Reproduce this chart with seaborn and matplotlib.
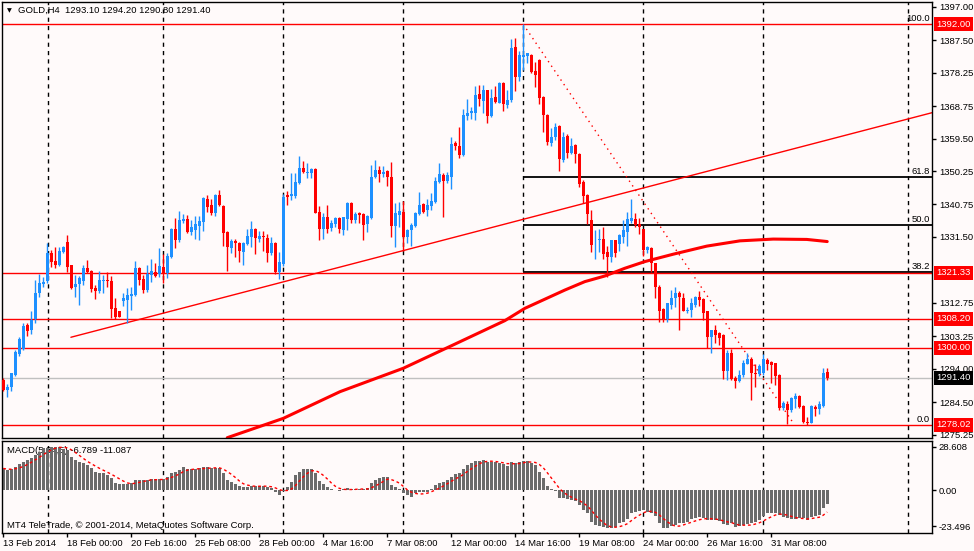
import matplotlib
matplotlib.use("Agg")
import matplotlib.pyplot as plt
import matplotlib.transforms as mtransforms
import numpy as np
import pandas as pd
import seaborn as sns

# -------- data (GOLD H4) --------
opens = [
    1290.8, 1288.1, 1288.7, 1292.2, 1298.2, 1299.5, 1306.5, 1305.0, 1308.1, 1315.5,
    1318.1, 1319.1, 1327.0, 1324.7, 1323.5, 1327.3, 1330.2, 1323.4, 1317.4, 1318.1,
    1319.1, 1322.6, 1321.8, 1317.0, 1316.2, 1319.1, 1319.3, 1319.0, 1311.4, 1310.4,
    1313.4, 1313.6, 1314.7, 1315.0, 1322.6, 1319.6, 1316.4, 1320.7, 1321.6, 1321.0,
    1323.1, 1321.2, 1325.9, 1333.9, 1330.6, 1336.0, 1336.6, 1333.0, 1333.5, 1334.6,
    1335.9, 1342.3, 1340.6, 1338.4, 1343.3, 1340.4, 1333.0, 1328.5, 1330.4, 1329.9,
    1327.3, 1329.5, 1331.6, 1333.7, 1330.8, 1331.9, 1331.3, 1326.8, 1329.9, 1321.4,
    1323.8, 1343.4, 1343.2, 1343.2, 1346.9, 1351.0, 1349.8, 1349.6, 1350.7, 1338.7,
    1333.7, 1337.1, 1334.0, 1335.2, 1336.8, 1333.5, 1336.5, 1341.3, 1336.3, 1338.4,
    1338.0, 1335.2, 1336.8, 1348.7, 1350.6, 1349.4, 1350.4, 1348.7, 1334.6, 1337.8,
    1338.7, 1331.6, 1333.5, 1334.6, 1338.0, 1340.8, 1339.2, 1340.3, 1341.5, 1347.2,
    1349.1, 1347.5, 1348.7, 1358.1, 1357.4, 1354.8, 1365.9, 1366.7, 1366.9, 1372.2,
    1370.3, 1373.3, 1365.9, 1371.2, 1369.7, 1375.2, 1369.1, 1370.5, 1385.5, 1377.1,
    1382.6, 1383.0, 1383.3, 1378.8, 1381.8, 1371.4, 1366.2, 1358.3, 1359.9, 1363.1,
    1353.4, 1360.2, 1355.5, 1357.7, 1355.1, 1347.2, 1343.4, 1336.3, 1330.5, 1330.5,
    1330.8, 1327.3, 1325.7, 1330.5, 1329.5, 1331.6, 1333.0, 1336.1, 1336.5, 1335.2,
    1333.7, 1327.8, 1328.3, 1324.0, 1317.2, 1310.9, 1308.1, 1312.2, 1314.1, 1315.7,
    1314.1, 1310.5, 1310.7, 1312.2, 1314.5, 1313.8, 1310.3, 1303.1, 1305.0, 1304.3,
    1303.6, 1293.5, 1298.4, 1291.3, 1290.6, 1292.2, 1295.5, 1296.7, 1292.9, 1292.5,
    1292.7, 1296.5, 1296.0, 1295.6, 1292.2, 1282.8, 1284.0, 1282.3, 1285.3, 1286.3,
    1283.4, 1279.0, 1278.7, 1283.2, 1282.5, 1283.4, 1293.1,
]
highs = [
    1291.3, 1289.7, 1292.9, 1299.3, 1303.0, 1306.9, 1307.1, 1310.3, 1319.4, 1321.0,
    1320.2, 1329.7, 1327.8, 1328.7, 1328.6, 1328.9, 1332.2, 1323.5, 1320.7, 1320.4,
    1323.5, 1324.9, 1322.1, 1317.8, 1321.9, 1320.7, 1321.6, 1320.4, 1314.1, 1310.5,
    1315.5, 1316.9, 1317.2, 1324.7, 1323.1, 1320.7, 1323.5, 1325.1, 1324.2, 1328.3,
    1326.7, 1326.8, 1334.0, 1336.8, 1338.9, 1338.0, 1337.8, 1336.3, 1337.5, 1337.5,
    1342.8, 1343.4, 1342.2, 1343.7, 1345.0, 1340.6, 1333.3, 1330.8, 1330.8, 1330.2,
    1330.2, 1333.7, 1336.1, 1334.0, 1333.3, 1333.3, 1332.4, 1331.6, 1330.2, 1327.3,
    1343.7, 1344.7, 1349.6, 1349.8, 1354.5, 1353.2, 1352.5, 1351.0, 1351.0, 1340.3,
    1338.2, 1340.6, 1336.3, 1337.3, 1337.3, 1337.3, 1341.5, 1341.5, 1338.7, 1338.7,
    1338.4, 1337.8, 1352.0, 1353.4, 1351.7, 1351.7, 1350.6, 1352.9, 1341.1, 1341.5,
    1341.8, 1333.7, 1335.6, 1338.7, 1344.2, 1341.1, 1342.2, 1343.9, 1348.7, 1352.6,
    1349.6, 1350.1, 1359.9, 1358.9, 1362.7, 1367.8, 1370.7, 1368.4, 1374.5, 1374.7,
    1374.7, 1373.3, 1373.5, 1374.5, 1375.7, 1375.7, 1373.3, 1387.7, 1388.0, 1384.5,
    1392.0, 1383.9, 1383.6, 1381.4, 1382.0, 1371.6, 1366.5, 1362.4, 1363.8, 1363.4,
    1361.5, 1360.8, 1359.6, 1358.0, 1355.3, 1347.7, 1343.7, 1339.2, 1333.5, 1333.7,
    1334.4, 1329.0, 1330.6, 1330.6, 1332.4, 1336.3, 1338.7, 1342.2, 1338.2, 1336.8,
    1333.9, 1329.0, 1328.6, 1324.2, 1317.8, 1311.2, 1312.8, 1316.4, 1317.4, 1316.0,
    1315.5, 1311.7, 1314.1, 1314.7, 1316.2, 1314.1, 1310.5, 1305.0, 1306.5, 1304.6,
    1303.9, 1299.4, 1299.5, 1292.0, 1293.7, 1296.5, 1298.4, 1297.3, 1295.4, 1295.4,
    1298.2, 1297.0, 1296.3, 1295.7, 1292.5, 1284.7, 1284.9, 1286.1, 1287.0, 1286.6,
    1283.7, 1280.4, 1283.7, 1283.7, 1284.7, 1294.1, 1294.2,
]
lows = [
    1287.8, 1285.9, 1287.8, 1292.0, 1297.6, 1299.3, 1303.3, 1303.9, 1307.1, 1314.5,
    1317.2, 1318.5, 1323.1, 1322.6, 1323.2, 1326.8, 1321.4, 1316.6, 1314.5, 1312.1,
    1317.8, 1321.2, 1315.9, 1313.9, 1315.5, 1315.7, 1317.2, 1308.4, 1308.3, 1308.6,
    1311.9, 1306.9, 1310.7, 1314.7, 1317.8, 1315.5, 1315.9, 1318.8, 1320.2, 1320.2,
    1318.5, 1319.7, 1325.4, 1328.3, 1330.2, 1335.6, 1332.5, 1332.1, 1330.8, 1330.6,
    1333.3, 1338.7, 1337.8, 1337.5, 1340.3, 1328.9, 1321.9, 1326.8, 1325.9, 1324.5,
    1323.5, 1329.2, 1328.7, 1326.7, 1330.2, 1327.6, 1324.5, 1326.4, 1321.0, 1319.5,
    1323.2, 1340.6, 1342.0, 1342.5, 1346.6, 1349.6, 1348.2, 1348.2, 1338.2, 1330.6,
    1330.8, 1332.7, 1333.3, 1334.4, 1332.7, 1332.1, 1333.5, 1335.6, 1335.4, 1335.4,
    1330.6, 1333.0, 1336.7, 1348.2, 1347.2, 1348.7, 1346.0, 1331.4, 1328.6, 1334.4,
    1327.6, 1329.7, 1328.8, 1334.4, 1337.8, 1338.2, 1337.5, 1339.2, 1341.3, 1346.8,
    1337.3, 1346.8, 1345.1, 1356.3, 1353.9, 1354.5, 1364.8, 1365.0, 1364.8, 1368.8,
    1366.9, 1364.0, 1365.7, 1369.7, 1369.5, 1367.4, 1368.1, 1370.0, 1373.1, 1376.0,
    1379.0, 1380.9, 1378.1, 1374.3, 1369.3, 1361.5, 1357.7, 1357.4, 1359.1, 1350.4,
    1352.9, 1353.9, 1355.1, 1352.6, 1345.6, 1341.1, 1335.2, 1327.3, 1325.1, 1327.3,
    1325.1, 1320.0, 1324.5, 1325.9, 1327.6, 1329.7, 1328.8, 1335.6, 1334.4, 1332.4,
    1326.1, 1327.0, 1321.4, 1314.1, 1307.4, 1307.4, 1307.4, 1310.9, 1311.5, 1305.0,
    1310.3, 1309.8, 1308.8, 1311.5, 1311.9, 1307.9, 1299.8, 1298.4, 1301.3, 1300.8,
    1291.0, 1290.8, 1290.8, 1288.5, 1290.3, 1291.8, 1295.4, 1285.1, 1288.9, 1292.0,
    1292.2, 1293.7, 1289.9, 1289.4, 1282.3, 1282.3, 1278.4, 1281.8, 1282.8, 1282.8,
    1278.7, 1278.02, 1278.5, 1280.6, 1281.1, 1283.2, 1290.8,
]
closes = [
    1288.1, 1288.9, 1292.7, 1298.7, 1302.5, 1306.2, 1304.85, 1307.9, 1315.5, 1318.3,
    1318.8, 1327.0, 1324.5, 1323.5, 1327.6, 1328.7, 1323.1, 1316.9, 1318.1, 1319.7,
    1322.6, 1321.6, 1316.6, 1316.2, 1319.3, 1319.3, 1318.9, 1310.9, 1308.8, 1308.8,
    1314.0, 1315.0, 1315.3, 1322.6, 1319.3, 1316.4, 1321.0, 1321.9, 1320.4, 1323.2,
    1321.3, 1326.1, 1333.7, 1330.5, 1336.3, 1336.6, 1333.0, 1334.3, 1335.2, 1336.1,
    1342.5, 1340.1, 1338.4, 1343.3, 1340.6, 1332.7, 1328.7, 1330.4, 1329.7, 1327.6,
    1329.7, 1331.8, 1333.7, 1331.1, 1331.8, 1331.4, 1327.0, 1329.9, 1321.4, 1324.5,
    1342.8, 1343.0, 1343.7, 1347.2, 1351.0, 1350.1, 1350.1, 1350.7, 1338.4, 1333.7,
    1337.1, 1333.7, 1335.6, 1336.8, 1333.8, 1337.1, 1341.1, 1336.3, 1338.0, 1337.8,
    1334.9, 1337.5, 1348.5, 1350.6, 1349.4, 1349.9, 1348.7, 1334.6, 1338.2, 1338.9,
    1331.6, 1333.5, 1334.9, 1338.4, 1340.6, 1338.7, 1340.6, 1341.7, 1347.4, 1349.4,
    1347.5, 1349.1, 1358.0, 1357.4, 1354.8, 1366.2, 1366.9, 1367.2, 1371.9, 1370.7,
    1373.3, 1365.9, 1370.9, 1370.0, 1375.2, 1369.3, 1370.5, 1385.2, 1377.1, 1383.3,
    1383.3, 1383.7, 1378.5, 1377.6, 1370.9, 1366.2, 1358.6, 1359.9, 1362.9, 1353.6,
    1360.0, 1355.3, 1357.4, 1355.1, 1346.6, 1343.2, 1338.0, 1329.2, 1330.6, 1330.8,
    1326.7, 1325.7, 1330.5, 1327.0, 1332.1, 1333.5, 1336.5, 1336.8, 1334.9, 1334.4,
    1327.8, 1328.6, 1324.2, 1317.2, 1310.5, 1308.1, 1312.6, 1314.1, 1315.7, 1314.3,
    1310.5, 1310.8, 1312.8, 1314.3, 1313.6, 1310.0, 1303.1, 1304.9, 1303.6, 1302.7,
    1293.5, 1298.4, 1291.0, 1290.6, 1292.2, 1295.7, 1296.7, 1292.9, 1292.5, 1294.8,
    1296.7, 1295.4, 1295.1, 1292.0, 1282.8, 1284.4, 1282.3, 1285.6, 1286.3, 1283.2,
    1279.0, 1278.5, 1283.4, 1282.5, 1284.0, 1292.9, 1291.4,
]
macd_main = [
    14.3, 13.3, 13.7, 15.0, 17.0, 18.7, 19.8, 20.9, 23.0, 25.2,
    27.4, 27.8, 28.3, 28.6, 28.2, 27.3, 26.3, 22.0, 19.8, 18.7,
    17.6, 16.5, 14.3, 12.2, 11.5, 11.1, 10.0, 7.8, 4.6, 3.9,
    3.9, 4.1, 4.6, 6.7, 6.7, 6.7, 6.7, 7.2, 7.2, 7.2,
    7.2, 8.9, 11.5, 12.2, 13.3, 15.0, 13.7, 13.7, 13.7, 14.3,
    15.4, 15.0, 14.3, 14.3, 14.3, 11.5, 6.7, 5.7, 3.9, 2.8,
    2.4, 2.4, 2.8, 2.8, 2.8, 2.8, 2.0, 1.3, -0.9, -3.0,
    -0.4, 2.4, 5.7, 10.0, 12.2, 13.7, 13.7, 13.7, 11.1, 6.3,
    4.1, 2.0, 0.7, 0.2, -0.4, 0.7, 1.3, 0.7, 0.7, 0.7,
    0.7, 1.3, 4.6, 6.7, 7.8, 8.5, 8.5, 3.5, 2.0, 1.1,
    -2.0, -3.0, -4.1, -2.0, -1.3, -1.1, -1.1, 0.7, 3.5, 5.0,
    5.7, 6.7, 8.9, 10.7, 11.5, 13.7, 16.5, 17.6, 19.3, 19.3,
    19.5, 18.7, 18.3, 18.3, 17.6, 17.0, 15.9, 18.3, 17.6, 18.7,
    19.1, 19.1, 17.6, 16.5, 12.2, 8.3, 3.0, 0.7, -0.2, -4.8,
    -4.8, -5.9, -6.3, -6.7, -9.8, -12.8, -15.0, -20.4, -22.6, -23.3,
    -24.1, -24.8, -24.8, -23.7, -21.5, -20.4, -18.9, -15.0, -13.9, -13.3,
    -12.8, -13.9, -15.0, -16.7, -21.5, -24.8, -24.8, -23.3, -22.6, -21.5,
    -21.1, -20.4, -18.9, -18.3, -17.6, -18.3, -19.3, -19.3, -19.3, -19.8,
    -22.0, -22.6, -21.5, -24.1, -23.3, -22.6, -22.2, -21.5, -20.7, -19.3,
    -16.7, -15.0, -15.0, -15.0, -16.1, -17.2, -17.8, -18.9, -18.9, -18.3,
    -18.3, -19.3, -17.6, -16.7, -16.1, -11.7, -8.9,
]

# moving average (thick red), sampled along the drawn curve
ma_bars = [56, 70, 84.2, 100, 112.5, 125.4, 130.4, 135.4, 140.4, 145.4,
           150.4, 155.4, 160.4, 167.5, 175.9, 184.2, 192.5, 200.9, 206]
ma_values = [1274.4, 1279.9, 1287.5, 1294.15, 1300.8, 1307.7, 1311.2, 1313.8, 1316.4, 1318.8,
             1320.4, 1322.6, 1324.5, 1326.6, 1328.9, 1330.4, 1330.9, 1330.8, 1330.2]

date_ticks = [0, 16, 32, 48, 64, 80, 96, 112, 128, 144, 160, 176, 192]
date_labels = ["13 Feb 2014", "18 Feb 00:00", "20 Feb 16:00", "25 Feb 08:00",
               "28 Feb 00:00", "4 Mar 16:00", "7 Mar 08:00", "12 Mar 00:00",
               "14 Mar 16:00", "19 Mar 08:00", "24 Mar 00:00", "26 Mar 16:00",
               "31 Mar 08:00"]
price_ticks = [1397.00, 1387.50, 1378.25, 1368.75, 1359.50, 1350.25, 1340.75,
               1331.50, 1312.75, 1303.25, 1294.00, 1284.50, 1275.25]
red_levels = [1392.00, 1321.33, 1308.20, 1300.00, 1278.02]
last_price = 1291.40
fib_high, fib_low, fib_start = 1392.00, 1278.02, 130
fib_ratios = [100.0, 61.8, 50.0, 38.2, 0.0]
trend_up_x, trend_up_y = [16.9, 232.2], [1302.97, 1366.85]
trend_dn_x, trend_dn_y = [130, 197.5], [1392.0, 1278.6]
grid_bars = [11.1, 40, 70, 100, 130, 160, 190, 226.1]
macd_ticks = [28.608, 0.00, -23.496]

# -------- style --------
BG = "#FFFAFA"
BULL = "#1E90FF"
BEAR = "#FF0000"
FS = 6.8
XMIN, XMAX = -0.325, 232.2

df = pd.DataFrame({"open": opens, "high": highs, "low": lows,
                   "close": closes, "macd": macd_main})
df["bar"] = np.arange(len(df))
df["signal"] = df["macd"].rolling(5, min_periods=1).mean()

sns.set_theme(style="white")
plt.rcParams["font.family"] = ["Liberation Sans", "DejaVu Sans"]
plt.rcParams["axes.facecolor"] = BG

fig = plt.figure(figsize=(9.74, 5.51), dpi=100, facecolor=BG)
ax = fig.add_axes([2 / 974, 1 - 438.3 / 551, 930 / 974, 436.3 / 551])
ax2 = fig.add_axes([2 / 974, 1 - 532.7 / 551, 930 / 974, 92 / 551])

for a in (ax, ax2):
    a.set_facecolor(BG)
    for s in a.spines.values():
        s.set_color("black")
        s.set_linewidth(1)
    for b in grid_bars:
        a.axvline(b, color="black", lw=1, ls=(0, (3, 3)), zorder=0.5)
    a.set_xlim(XMIN, XMAX)

# -------- price panel --------
for r in fib_ratios:
    lvl = fib_low + r / 100 * (fib_high - fib_low)
    if 0 < r < 100:
        ax.hlines(lvl, fib_start, XMAX, color="black", lw=1.3, zorder=1)
    ax.text(231.6, lvl + 0.3, f"{r:.1f}", ha="right", va="bottom",
            fontsize=FS, color="black", zorder=5)
for lvl in red_levels:
    ax.axhline(lvl, color="red", lw=1, zorder=1.2)
ax.axhline(last_price, color="#C0C0C0", lw=1, zorder=1.1)

ax.plot(trend_up_x, trend_up_y, color="red", lw=1, zorder=1.5)
ax.plot(trend_dn_x, trend_dn_y, color="red", lw=1, ls=(0, (1, 3)), zorder=1.5)

up = df["close"] >= df["open"]
cols = np.where(up, BULL, BEAR)
ax.vlines(df["bar"], df["low"], df["high"], colors=cols, lw=1, zorder=3)
body = np.maximum((df["close"] - df["open"]).abs(), 0.25)
ax.bar(df["bar"], body, bottom=np.minimum(df["open"], df["close"]),
       width=0.7, color=cols, linewidth=0, zorder=3)

sns.lineplot(x=ma_bars, y=ma_values, color="red", lw=2.2, ax=ax, zorder=2)

ax.set_ylim(1274.23, 1398.34)
ax.yaxis.tick_right()
ax.set_yticks(price_ticks)
ax.set_yticklabels([f"{p:.2f}" for p in price_ticks])
ax.tick_params(axis="y", direction="out", length=3, width=1, colors="black",
               labelsize=FS, pad=2, right=True, left=False)
ax.tick_params(axis="x", bottom=False, labelbottom=False)
ax.set_xlabel("")
ax.set_ylabel("")

tr = mtransforms.blended_transform_factory(ax.transAxes, ax.transData) + \
    mtransforms.ScaledTranslation(4 / 100, 0, fig.dpi_scale_trans)
for lvl in red_levels:
    ax.text(1.0, lvl, f"{lvl:.2f}", transform=tr, ha="left", va="center",
            fontsize=FS, color="white", clip_on=False,
            bbox=dict(boxstyle="square,pad=0.25", fc="red", ec="none"))
ax.text(1.0, last_price, f"{last_price:.2f}", transform=tr, ha="left", va="center",
        fontsize=FS, color="white", clip_on=False,
        bbox=dict(boxstyle="square,pad=0.25", fc="black", ec="none"))

fig.text(9.5 / 974, 1 - 10.5 / 551, "▼", fontsize=4.5, family="DejaVu Sans",
         va="center", ha="center", color="black")
fig.text(18 / 974, 1 - 10.5 / 551, "GOLD,H4  1293.10 1294.20 1290.80 1291.40",
         fontsize=FS, va="center", ha="left", color="black")

# -------- MACD panel --------
ax2.text(5 / 930, 1 - 9.5 / 92, "MACD(5,34,5) -6.789 -11.087", transform=ax2.transAxes,
         fontsize=FS, va="center", ha="left", color="black", zorder=0.8)
sns.barplot(x=df["bar"], y=df["macd"], native_scale=True, color="#6B6B6B",
            saturation=1, width=0.75, errorbar=None, linewidth=0, ax=ax2, zorder=2)
sns.lineplot(x=df["bar"], y=df["signal"], color="red", lw=1,
             linestyle=(0, (2, 2)), ax=ax2, zorder=3)
ax2.text(5 / 930, 1 - 85 / 92, "MT4 TeleTrade, © 2001-2014, MetaQuotes Software Corp.",
         transform=ax2.transAxes, fontsize=FS, va="center", ha="left", color="black", zorder=4)

ax2.set_xlim(XMIN, XMAX)
ax2.set_ylim(-27.7, 32.4)
ax2.yaxis.tick_right()
ax2.set_yticks(macd_ticks)
ax2.set_yticklabels(["28.608", "0.00", "-23.496"])
ax2.set_xticks(date_ticks)
ax2.set_xticklabels(date_labels)
for lbl in ax2.get_xticklabels():
    lbl.set_horizontalalignment("left")
ax2.tick_params(axis="y", direction="out", length=3, width=1, colors="black",
                labelsize=FS, pad=2, right=True, left=False)
ax2.tick_params(axis="x", direction="out", length=3, width=1, colors="black",
                labelsize=FS, pad=1.5, bottom=True)
ax2.set_xlabel("")
ax2.set_ylabel("")

fig.savefig("out.png", dpi=100, facecolor=BG)
